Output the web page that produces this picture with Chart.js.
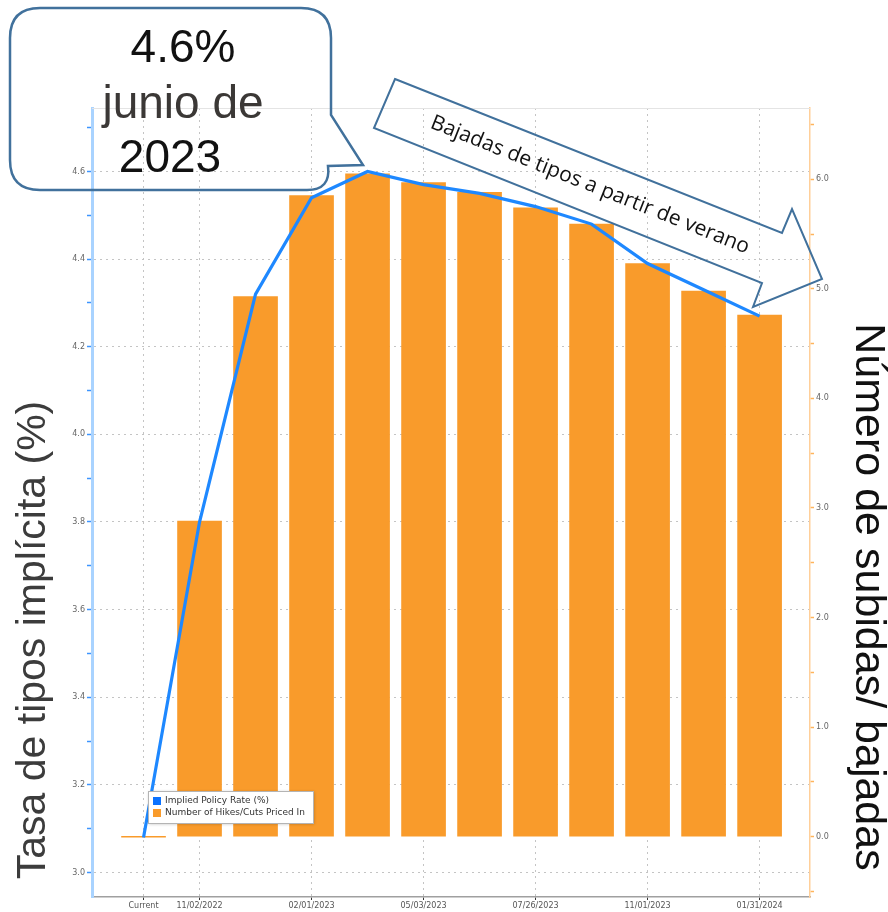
<!DOCTYPE html>
<html lang="es">
<head>
<meta charset="utf-8">
<title>Tasa de tipos implícita</title>
<script src="https://cdn.jsdelivr.net/npm/chart.js@4.4.0/dist/chart.umd.min.js"></script>
<style>
  html, body { margin: 0; padding: 0; background: #fff; }
  #wrap { position: relative; width: 888px; height: 912px; }
</style>
</head>
<body>
<div id="wrap"><canvas id="chart"></canvas></div>
<script>
// ── DATA ───────────────────────────────────────────────────
const categories = ['Current', '11/02/2022', '12/14/2022', '02/01/2023', '03/22/2023', '05/03/2023',
  '06/14/2023', '07/26/2023', '09/20/2023', '11/01/2023', '12/13/2023', '01/31/2024'];
const labelledIdx = [0, 1, 3, 5, 7, 9, 11];

const impliedRate = [3.08, 3.80, 4.32, 4.54, 4.60, 4.57, 4.55, 4.52, 4.48, 4.39, 4.33, 4.27];
const hikesCuts   = [0, 2.88, 4.93, 5.85, 6.05, 5.97, 5.88, 5.74, 5.59, 5.23, 4.98, 4.76];

const rateTicks  = [3.0, 3.1, 3.2, 3.3, 3.4, 3.5, 3.6, 3.7, 3.8, 3.9, 4.0, 4.1, 4.2, 4.3, 4.4, 4.5, 4.6, 4.7];
const countTicks = [-0.5, 0, 0.5, 1, 1.5, 2, 2.5, 3, 3.5, 4, 4.5, 5, 5.5, 6, 6.5];

const seriesNames = ['Implied Policy Rate (%)', 'Number of Hikes/Cuts Priced In'];
const leftTitle  = 'Tasa de tipos implícita (%)';
const rightTitle = 'Número de subidas/ bajadas';
const calloutLines = ['4.6%', 'junio de', '2023'];
const arrowText = 'Bajadas de tipos a partir de verano';

// ── COLOURS ────────────────────────────────────────────────
const BLUE = '#1e88ff';
const ORANGE = '#f99b2b';
const SHAPE = '#41719c';
const TICK_FONT = { family: 'DejaVu Sans', size: 8 };

const isMajor = v => Math.round(v * 10) % 2 === 0;

// ── OVERLAY: titles, callout, arrow, legend ───────────────
const overlay = {
  id: 'overlay',
  beforeDatasetsDraw(chart) {
    const { ctx, chartArea: a } = chart;
    ctx.save();
    ctx.strokeStyle = '#e4e4e4';
    ctx.lineWidth = 1;
    ctx.beginPath();
    ctx.moveTo(a.left, a.top + 0.5);
    ctx.lineTo(a.right, a.top + 0.5);
    ctx.stroke();
    ctx.restore();
  },
  afterDraw(chart) {
    const { ctx } = chart;
    ctx.save();

    // axis titles
    ctx.fillStyle = '#3c3c3c';
    ctx.font = '41px "Liberation Sans", Arial, sans-serif';
    ctx.textAlign = 'center';
    ctx.textBaseline = 'alphabetic';
    ctx.save();
    ctx.translate(45, 640);
    ctx.rotate(-Math.PI / 2);
    ctx.fillText(leftTitle, 0, 0);
    ctx.restore();

    ctx.fillStyle = '#111';
    ctx.font = '43px "Liberation Sans", Arial, sans-serif';
    ctx.save();
    ctx.translate(856, 597);
    ctx.rotate(Math.PI / 2);
    ctx.fillText(rightTitle, 0, 0);
    ctx.restore();

    // callout bubble
    const L = 10, T = 8, R = 331, B = 190, r = 30;
    ctx.beginPath();
    ctx.moveTo(L + r, T);
    ctx.lineTo(R - r, T);
    ctx.quadraticCurveTo(R, T, R, T + r);
    ctx.lineTo(R, 115);
    ctx.lineTo(363, 165);
    ctx.lineTo(R - 3, 166);
    ctx.quadraticCurveTo(R, B, R - 24, B);
    ctx.lineTo(L + r, B);
    ctx.quadraticCurveTo(L, B, L, B - r);
    ctx.lineTo(L, T + r);
    ctx.quadraticCurveTo(L, T, L + r, T);
    ctx.closePath();
    ctx.strokeStyle = SHAPE;
    ctx.lineWidth = 2.5;
    ctx.stroke();

    ctx.font = '46px "Liberation Sans", Arial, sans-serif';
    ctx.textAlign = 'center';
    ctx.fillStyle = '#111';
    ctx.fillText(calloutLines[0], 183, 62);
    ctx.fillStyle = '#3b3836';
    ctx.fillText(calloutLines[1], 183, 118);
    ctx.fillStyle = '#111';
    ctx.fillText(calloutLines[2], 170, 172);

    // block arrow
    ctx.beginPath();
    ctx.moveTo(395, 79);
    ctx.lineTo(782, 233);
    ctx.lineTo(792, 209);
    ctx.lineTo(822, 279);
    ctx.lineTo(753, 307);
    ctx.lineTo(762, 283);
    ctx.lineTo(374, 128);
    ctx.closePath();
    ctx.strokeStyle = SHAPE;
    ctx.lineWidth = 2;
    ctx.stroke();

    ctx.save();
    ctx.translate(590, 185);
    ctx.rotate(Math.atan2(154, 387));
    ctx.fillStyle = '#111';
    ctx.font = '21px "Open Sans", sans-serif';
    ctx.textAlign = 'center';
    ctx.textBaseline = 'middle';
    ctx.fillText(arrowText, 0, 0);
    ctx.restore();

    // legend box
    const lx = 148, ly = 791, lw = 165, lh = 32;
    ctx.save();
    ctx.shadowColor = 'rgba(0,0,0,0.25)';
    ctx.shadowBlur = 3;
    ctx.shadowOffsetX = 1;
    ctx.shadowOffsetY = 1;
    ctx.fillStyle = '#fff';
    ctx.fillRect(lx, ly, lw, lh);
    ctx.restore();
    ctx.strokeStyle = '#b4b4b4';
    ctx.lineWidth = 1;
    ctx.strokeRect(lx + 0.5, ly + 0.5, lw, lh);

    ctx.font = '9px "DejaVu Sans", sans-serif';
    ctx.textAlign = 'left';
    ctx.textBaseline = 'middle';
    chart.data.datasets.forEach((ds, i) => {
      const y = ly + 10 + i * 12;
      ctx.fillStyle = ds.legendColor;
      ctx.fillRect(lx + 5, y - 4, 8, 8);
      ctx.fillStyle = '#333';
      ctx.fillText(ds.label, lx + 17, y);
    });

    ctx.restore();
  }
};

// ── CHART ──────────────────────────────────────────────────
new Chart(document.getElementById('chart'), {
  type: 'bar',
  data: {
    datasets: [
      {
        type: 'line',
        label: seriesNames[0],
        data: impliedRate.map((v, i) => ({ x: i, y: v })),
        yAxisID: 'y',
        borderColor: BLUE,
        legendColor: '#0a72ff',
        borderWidth: 3.2,
        pointRadius: 0,
        tension: 0,
        order: 0,
      },
      {
        type: 'bar',
        label: seriesNames[1],
        data: hikesCuts.map((v, i) => ({ x: i, y: v })),
        yAxisID: 'y1',
        backgroundColor: ORANGE,
        legendColor: ORANGE,
        barThickness: 44,
        minBarLength: 1,
        order: 1,
      },
    ],
  },
  options: {
    responsive: true,
    maintainAspectRatio: false,
    animation: false,
    layout: { padding: { top: 108, left: 0, right: 0, bottom: 0 } },
    plugins: { legend: { display: false }, tooltip: { enabled: false } },
    scales: {
      x: {
        type: 'linear',
        offset: false,
        min: -0.92,
        max: 11.9,
        afterBuildTicks: s => { s.ticks = labelledIdx.map(v => ({ value: v })); },
        afterFit: s => { s.height = 15; },
        ticks: {
          callback: v => categories[v] ?? '',
          color: '#555',
          font: TICK_FONT,
          padding: 1,
          maxRotation: 0,
          autoSkip: false,
        },
        grid: { offset: false, color: '#c4c4c4', tickColor: '#333', tickLength: 3, tickBorderDash: [] },
        border: { color: '#a0a0a0', width: 1.5, dash: [2, 4] },
      },
      y: {
        position: 'left',
        min: 2.944,
        max: 4.745,
        afterBuildTicks: s => { s.ticks = rateTicks.map(v => ({ value: v })); },
        afterFit: s => { s.width = 92; },
        ticks: {
          callback: v => (isMajor(v) ? v.toFixed(1) : ''),
          color: '#666',
          font: TICK_FONT,
          padding: 2,
        },
        grid: {
          color: c => (c.tick && isMajor(c.tick.value) ? '#c4c4c4' : 'rgba(0,0,0,0)'),
          tickColor: '#3d95ff',
          tickLength: 5,
          tickWidth: 1.5,
          tickBorderDash: [],
        },
        border: { color: '#a9d3ff', width: 3, dash: [2, 4] },
      },
      y1: {
        position: 'right',
        min: -0.55,
        max: 6.65,
        afterBuildTicks: s => { s.ticks = countTicks.map(v => ({ value: v })); },
        afterFit: s => { s.width = 78; },
        ticks: {
          callback: v => (Number.isInteger(v) ? v.toFixed(1) : ''),
          color: '#666',
          font: TICK_FONT,
          padding: 2,
        },
        grid: { drawOnChartArea: false, tickColor: '#ffb45c', tickLength: 4, tickWidth: 1.5 },
        border: { color: '#ffcf99', width: 1.5 },
      },
    },
  },
  plugins: [overlay],
});
</script>
</body>
</html>
